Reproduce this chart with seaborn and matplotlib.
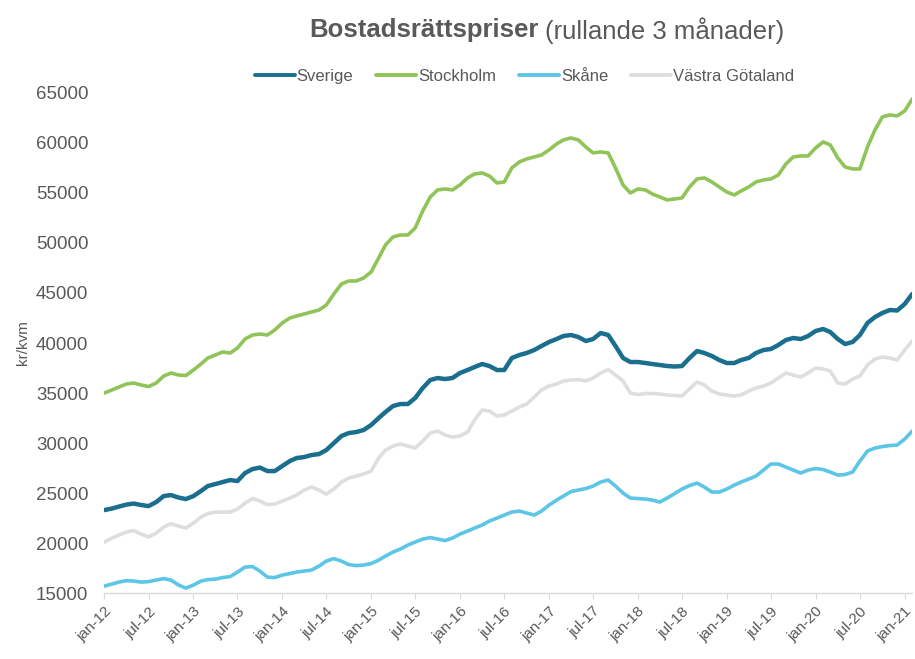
import pandas as pd
import seaborn as sns
from matplotlib import pyplot as plt

# monthly values, jan-12 .. feb-21 (kr/kvm, rolling 3 months)
sverige = [
    23300, 23450, 23650, 23850, 23950, 23800, 23700, 24100, 24700, 24800, 24550, 24400,
    24700, 25200, 25700, 25900, 26100, 26300, 26200, 27000, 27400, 27550, 27200, 27200,
    27700, 28200, 28500, 28600, 28800, 28900, 29300, 30000, 30700, 31000, 31100, 31300,
    31800, 32500, 33100, 33700, 33900, 33900, 34500, 35500, 36300, 36500, 36400, 36500,
    37000, 37300, 37600, 37900, 37700, 37300, 37300, 38500, 38800, 39000, 39300, 39700,
    40100, 40400, 40700, 40800, 40600, 40200, 40400, 41000, 40800, 39700, 38500, 38100,
    38100, 38000, 37900, 37800, 37700, 37650, 37700, 38500, 39200, 39000, 38700, 38300,
    38000, 38000, 38300, 38500, 39000, 39300, 39400, 39800, 40300, 40500, 40400, 40700,
    41200, 41400, 41100, 40400, 39900, 40100, 40800, 42000, 42600, 43000, 43300, 43250,
    43900, 44900,
]
stockholm = [
    35000, 35300, 35600, 35900, 36000, 35800, 35650, 36000, 36700, 37000, 36800, 36750,
    37300, 37900, 38500, 38800, 39100, 39000, 39500, 40400, 40800, 40900, 40800, 41300,
    42000, 42500, 42700, 42900, 43100, 43300, 43800, 44900, 45900, 46200, 46200, 46500,
    47100, 48500, 49800, 50600, 50800, 50800, 51500, 53200, 54600, 55300, 55400, 55300,
    55800, 56500, 56900, 57000, 56700, 56000, 56100, 57500, 58100, 58400, 58600, 58800,
    59300, 59900, 60300, 60500, 60300, 59600, 59000, 59100, 59000, 57500, 55800, 55000,
    55400, 55300, 54900, 54600, 54300, 54400, 54500, 55600, 56400, 56500, 56100, 55600,
    55100, 54800, 55200, 55600, 56100, 56300, 56400, 56800, 57900, 58600, 58700, 58700,
    59500, 60100, 59800, 58500, 57600, 57400, 57400, 59600, 61300, 62600, 62800, 62700,
    63200, 64400,
]
skane = [
    15700, 15900, 16100, 16250, 16200, 16100, 16150, 16300, 16450, 16300, 15800, 15500,
    15800, 16200, 16350, 16400, 16550, 16650, 17100, 17600, 17650, 17200, 16600, 16550,
    16800, 16950, 17100, 17200, 17300, 17700, 18200, 18450, 18200, 17850, 17750, 17800,
    17950, 18300, 18700, 19100, 19400, 19800, 20100, 20400, 20550, 20400, 20250, 20500,
    20900, 21200, 21500, 21800, 22200, 22500, 22800, 23100, 23200, 23000, 22800, 23200,
    23800, 24300, 24700, 25150, 25300, 25450, 25700, 26100, 26300, 25700, 25000, 24500,
    24450, 24400, 24300, 24100, 24500, 24950, 25400, 25750, 26000, 25600, 25100, 25100,
    25400, 25800, 26100, 26400, 26700, 27300, 27900, 27900, 27600, 27300, 27000, 27300,
    27450, 27350, 27100, 26800, 26850, 27100, 28200, 29200, 29500, 29650, 29750, 29800,
    30400, 31200,
]
vastra_gotaland = [
    20100, 20500, 20800, 21100, 21250, 20900, 20600, 21000, 21600, 21950, 21700, 21500,
    22000, 22600, 22950, 23100, 23100, 23100, 23400, 24000, 24450, 24200, 23850, 23900,
    24200, 24500, 24800, 25300, 25600, 25300, 24900, 25400, 26100, 26500, 26700, 26900,
    27200, 28500, 29300, 29700, 29900, 29700, 29500, 30200, 31000, 31200, 30800, 30600,
    30700, 31100, 32300, 33300, 33200, 32700, 32800, 33200, 33600, 33900, 34600, 35300,
    35700, 35900, 36200, 36300, 36350, 36200, 36500, 37000, 37350, 36800, 36200, 35000,
    34850, 34950, 34950, 34900, 34800, 34750, 34700, 35400, 36100, 35800, 35200, 34900,
    34800, 34700, 34800, 35200, 35500, 35700, 36000, 36500, 37000, 36800, 36600, 37000,
    37500, 37400, 37200, 36000, 35900, 36400, 36700, 37800, 38400, 38600, 38500, 38300,
    39300, 40200,
]

series_names = ["Sverige", "Stockholm", "Skåne", "Västra Götaland"]
colors = ["#1a6e8e", "#90c458", "#5cc6e6", "#dedede"]
tick_labels = ["jan-12", "jul-12", "jan-13", "jul-13", "jan-14", "jul-14", "jan-15",
               "jul-15", "jan-16", "jul-16", "jan-17", "jul-17", "jan-18", "jul-18",
               "jan-19", "jul-19", "jan-20", "jul-20", "jan-21"]

dates = pd.date_range("2012-01-01", periods=len(sverige), freq="MS")
df = pd.DataFrame({"Månad": dates, "Sverige": sverige, "Stockholm": stockholm,
                   "Skåne": skane, "Västra Götaland": vastra_gotaland})
df_long = df.melt(id_vars="Månad", var_name="Region", value_name="Pris")

sns.set_theme(style="white")
plt.rcParams["font.family"] = ["Liberation Sans", "DejaVu Sans"]
grey = "#595959"

fig = plt.figure(figsize=(9.15, 6.59), dpi=100)
ax = fig.add_axes([0.114, 0.1, 0.883, 0.759])

sns.lineplot(data=df_long, x="Månad", y="Pris", hue="Region", hue_order=series_names,
             palette=colors, linewidth=2.6, ax=ax)
for line in ax.get_lines()[:1]:
    line.set_linewidth(3.2)

ax.set_ylim(15000, 65000)
ax.set_yticks(range(15000, 65001, 5000))
ax.set_xlim(dates[0], dates[-1])
ax.set_xticks(dates[::6])
ax.set_xticklabels(tick_labels, rotation=45, ha="right", rotation_mode="anchor")
ax.tick_params(axis="x", colors=grey, labelsize=11, length=4, width=0.8,
               direction="out", bottom=True, pad=4)
ax.tick_params(axis="x", color="#d9d9d9")
ax.tick_params(axis="y", colors=grey, labelsize=13.5, length=0, pad=11.5)
ax.set_xlabel("")
ax.set_ylabel("kr/kvm", color=grey, fontsize=11, labelpad=4)

for side in ["top", "right", "left"]:
    ax.spines[side].set_visible(False)
ax.spines["bottom"].set_color("#d9d9d9")
ax.spines["bottom"].set_linewidth(1.0)
ax.grid(False)

handles, labels = ax.get_legend_handles_labels()
for h in handles:
    h.set_linewidth(2.8)
ax.legend(handles, labels, loc="center", bbox_to_anchor=(0.52, 1.033), ncol=4,
          frameon=False, fontsize=12, labelcolor=grey, handlelength=2.4,
          handletextpad=0.1, columnspacing=1.4)

# title: bold part followed by normal part
fig.canvas.draw()
renderer = fig.canvas.get_renderer()
t1 = fig.text(0.338, 0.954, "Bostadsrättspriser", fontsize=18.5, fontweight="bold",
              color=grey, ha="left", va="center")
bb = t1.get_window_extent(renderer=renderer)
x2 = fig.transFigure.inverted().transform((bb.x1 + 6, 0))[0]
fig.text(x2, 0.954, "(rullande 3 månader)", fontsize=18.5, color=grey,
         ha="left", va="center")

fig.savefig("out.png", dpi=100)
